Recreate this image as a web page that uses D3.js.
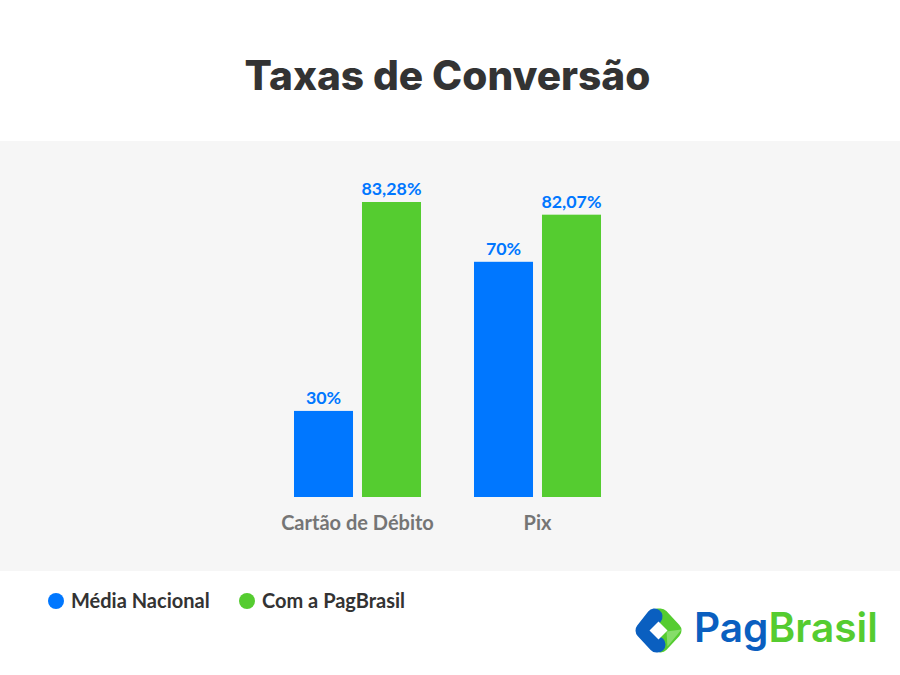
<!DOCTYPE html>
<html>
<head>
<meta charset="utf-8">
<script src="https://cdn.jsdelivr.net/npm/d3@7"></script>
<style>
  html, body { margin: 0; padding: 0; background: #fff; }
  text { font-family: "Lato", sans-serif; }
</style>
</head>
<body>
<svg id="chart" width="900" height="675"></svg>
<script>
const title = "Taxas de Conversão";
const categories = ["Cartão de Débito", "Pix"];
const seriesNames = ["Média Nacional", "Com a PagBrasil"];
const seriesColors = ["#0077ff", "#55cc30"];

// printed labels
const mediaLabels = ["30%", "70%"];
const pagBrasilLabels = ["83,28%", "82,07%"];

// bar lengths as drawn, the source bars are not proportional to their labels
const mediaLengths = [24.3, 66.4];
const pagBrasilLengths = [83.28, 79.7];

const svg = d3.select("#chart");

svg.append("rect").attr("width", 900).attr("height", 675).attr("fill", "#fff");
svg.append("rect").attr("y", 141).attr("width", 900).attr("height", 430).attr("fill", "#f6f6f6");

svg.append("text")
   .attr("x", 447.5).attr("y", 90)
   .attr("text-anchor", "middle")
   .style("font-family", "Inter")
   .style("font-size", "40.6px")
   .style("font-weight", 800)
   .attr("fill", "#333")
   .text(title);

const y = d3.scaleLinear().domain([0, 83.28]).range([497, 202]);
const x0 = d3.scaleBand().domain(categories).range([267.5, 627.5]).paddingInner(0.2944).paddingOuter(0.1472);
const x1 = d3.scaleBand().domain(seriesNames).range([0, x0.bandwidth()]).paddingInner(0.132);

const rows = [
  { name: seriesNames[0], color: seriesColors[0], lengths: mediaLengths, labels: mediaLabels },
  { name: seriesNames[1], color: seriesColors[1], lengths: pagBrasilLengths, labels: pagBrasilLabels }
];

rows.forEach(row => {
  const g = svg.append("g");
  g.selectAll("rect")
   .data(categories)
   .enter()
   .append("rect")
   .attr("x", d => x0(d) + x1(row.name))
   .attr("y", (d, i) => y(row.lengths[i]))
   .attr("width", x1.bandwidth())
   .attr("height", (d, i) => y(0) - y(row.lengths[i]))
   .attr("fill", row.color);
  g.selectAll("text")
   .data(categories)
   .enter()
   .append("text")
   .attr("x", d => x0(d) + x1(row.name) + x1.bandwidth() / 2)
   .attr("y", (d, i) => y(row.lengths[i]) - 7)
   .attr("text-anchor", "middle")
   .style("font-size", "17.8px")
   .style("font-weight", 700)
   .attr("fill", seriesColors[0])
   .text((d, i) => row.labels[i]);
});

const xAxis = svg.append("g")
   .attr("transform", "translate(0,497)")
   .call(d3.axisBottom(x0).tickSize(0).tickPadding(18.5));
xAxis.select(".domain").remove();
xAxis.selectAll("text")
   .style("font-family", "Lato")
   .style("font-size", "20px")
   .style("font-weight", 700)
   .attr("fill", "#757575");

// legend
const legend = svg.append("g").selectAll("g")
   .data(seriesNames)
   .enter()
   .append("g")
   .attr("transform", (d, i) => "translate(" + (i === 0 ? 56 : 247) + ",601)");
legend.append("circle").attr("r", 8).attr("fill", (d, i) => seriesColors[i]);
legend.append("text")
   .attr("x", 15).attr("y", 7)
   .style("font-size", "20px")
   .style("font-weight", 700)
   .attr("fill", "#333")
   .text(d => d);

// logo
const logo = svg.append("g").attr("transform", "translate(658.5,630.5)");
const line = d3.line();
logo.append("path")
   .attr("d", line([[2, 14], [15, 0], [2, -14], [-1, -14]]))
   .attr("fill", "none").attr("stroke", "#55cc30").attr("stroke-width", 16)
   .attr("stroke-linecap", "round").attr("stroke-linejoin", "round");
logo.append("path")
   .attr("d", line([[-4, -14], [-15, 0], [-2, 14], [-1, 14]]))
   .attr("fill", "none").attr("stroke", "#0a5fc0").attr("stroke-width", 16)
   .attr("stroke-linecap", "round").attr("stroke-linejoin", "round");
logo.append("path")
   .attr("d", line([[8, 1], [23, -1], [9, 16]]) + "Z")
   .attr("fill", "#86dd6a");
logo.append("path")
   .attr("d", line([[0, -9], [9, 0], [0, 9], [-9, 0]]) + "Z")
   .attr("fill", "#fff");

const logoText = svg.append("text")
   .attr("x", 694).attr("y", 642)
   .style("font-family", "Inter")
   .style("font-size", "40.6px")
   .style("font-weight", 600);
logoText.append("tspan").attr("fill", "#0a5fc0").text("Pag");
logoText.append("tspan").attr("fill", "#55cc30").text("Brasil");
</script>
</body>
</html>
